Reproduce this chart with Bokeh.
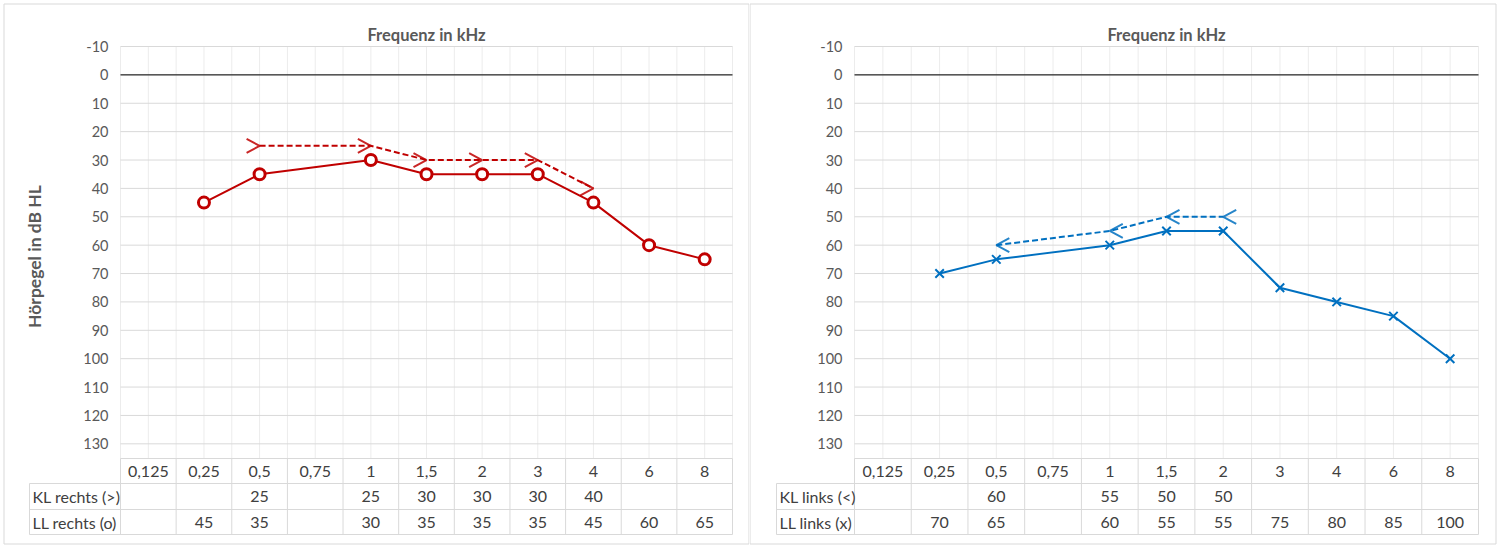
import math
from bokeh.plotting import figure
from bokeh.layouts import row
from bokeh.models import ColumnDataSource, Range1d
from bokeh.core.properties import value
from bokeh.embed import file_html
from bokeh.resources import INLINE

# Frequencies (kHz) as shown in the table header
freqs = ["0,125", "0,25", "0,5", "0,75", "1", "1,5", "2", "3", "4", "6", "8"]
db_ticks = [-10, 0, 10, 20, 30, 40, 50, 60, 70, 80, 90, 100, 110, 120, 130]

# right ear: bone conduction (KL) and air conduction (LL), dB HL
kl_rechts = [None, None, 25, None, 25, 30, 30, 30, 40, None, None]
ll_rechts = [None, 45, 35, None, 30, 35, 35, 35, 45, 60, 65]
# left ear
kl_links = [None, None, 60, None, 55, 50, 50, None, None, None, None]
ll_links = [None, 70, 65, None, 60, 55, 55, 75, 80, 85, 100]

RED = "#c00000"
BLUE = "#0070c0"
GRID_H = "#d9d9d9"
GRID_V = "#ececec"
BORDER = "#d9d9d9"
TICK_COL = "#595959"
CELL_COL = "#404040"
FONT = value("Lato")

W = 749          # width of one panel
H = 547          # figure height
TOP_PX = 46      # window y of -10 dB
DB_PX = 2.838    # pixels per dB
Y_MAX = 135.2    # bottom of plot area in dB


def wy(py):
    return -10 + (py - TOP_PX) / DB_PX


def audiogram(fig_left, plot_left, plot_right, table_left, tick_right, borders,
              kl, ll, kl_name, ll_name, color, direction, ll_marker, ylabel=None):
    cw = (plot_right - plot_left) / len(freqs)

    def wx(px):
        return (px - plot_left) / cw

    p = figure(width=W, height=H, output_backend="svg", toolbar_location=None,
               x_range=Range1d(wx(fig_left), wx(fig_left + W)),
               y_range=Range1d(wy(H), wy(0)),
               x_axis_type=None, y_axis_type=None, min_border=0)
    p.outline_line_color = None
    p.background_fill_color = "white"
    n = len(freqs)

    # panel border
    bx0, bx1 = wx(borders[0]), wx(borders[1])
    by0, by1 = wy(3.5), wy(543.5)
    p.multi_line(xs=[[bx0, bx1, bx1, bx0, bx0]], ys=[[by0, by0, by1, by1, by0]],
                 line_color=BORDER, line_width=1)

    # minor vertical grid (half categories)
    xs = [k * 0.5 for k in range(2 * n + 1)]
    p.segment(x0=xs, y0=[-10] * len(xs), x1=xs, y1=[Y_MAX] * len(xs),
              line_color=GRID_V, line_width=1)
    # horizontal grid
    p.segment(x0=[0] * len(db_ticks), y0=db_ticks, x1=[n] * len(db_ticks), y1=db_ticks,
              line_color=GRID_H, line_width=1)
    p.segment(x0=[0], y0=[0], x1=[n], y1=[0], line_color="black", line_width=1)

    # y tick labels
    p.text(x=[wx(tick_right)] * len(db_ticks), y=db_ticks, text=[str(t) for t in db_ticks],
           text_align="right", text_baseline="middle", text_font=FONT,
           text_font_size="14.5px", text_color=TICK_COL)

    # title
    p.text(x=[n / 2], y=[wy(34)], text=["Frequenz in kHz"], text_align="center",
           text_baseline="middle", text_font=FONT, text_font_size="16.5px",
           text_font_style="bold", text_color=TICK_COL)
    if ylabel:
        p.text(x=[wx(34)], y=[wy(256)], text=[ylabel], angle=math.pi / 2,
               text_align="center", text_baseline="middle", text_font=FONT,
               text_font_size="17.5px", text_font_style="bold", text_color=TICK_COL)

    # data table
    r0, r1, r2, r3 = wy(458), wy(483), wy(509), wy(534)
    tl = wx(table_left)
    p.segment(x0=[0, tl, tl, tl], y0=[r0, r1, r2, r3], x1=[n] * 4, y1=[r0, r1, r2, r3],
              line_color=GRID_H, line_width=1)
    vx = list(range(n + 1))
    p.segment(x0=vx, y0=[r0] * len(vx), x1=vx, y1=[r3] * len(vx),
              line_color=GRID_H, line_width=1)
    p.segment(x0=[tl], y0=[r1], x1=[tl], y1=[r3], line_color=GRID_H, line_width=1)

    centers = [i + 0.5 for i in range(n)]
    p.text(x=centers, y=[(r0 + r1) / 2] * n, text=freqs, text_align="center",
           text_baseline="middle", text_font=FONT, text_font_size="16px",
           text_color=CELL_COL)
    for vals, yy in ((kl, (r1 + r2) / 2), (ll, (r2 + r3) / 2)):
        cx = [c for c, v in zip(centers, vals) if v is not None]
        tx = [str(v) for v in vals if v is not None]
        p.text(x=cx, y=[yy] * len(cx), text=tx, text_align="center",
               text_baseline="middle", text_font=FONT, text_font_size="16px",
               text_color=CELL_COL)
    p.text(x=[wx(table_left + 3)] * 2, y=[(r1 + r2) / 2, (r2 + r3) / 2],
           text=[kl_name, ll_name], text_align="left", text_baseline="middle",
           text_font=FONT, text_font_size="16px", text_color=CELL_COL)

    # bone conduction: dashed line, chevron markers (">" right ear, "<" left ear)
    kx = [c for c, v in zip(centers, kl) if v is not None]
    ky = [v for v in kl if v is not None]
    p.line(kx, ky, line_color=color, line_width=2, line_dash="6 3")
    dx = -direction * 13 / cw
    dy = 7 / DB_PX
    p.multi_line(xs=[[x + dx, x, x + dx] for x in kx],
                 ys=[[y - dy, y, y + dy] for y in ky],
                 line_color=color, line_width=2, line_alpha=0.85)

    # air conduction: solid line with markers
    lls = ColumnDataSource(dict(
        x=[c for c, v in zip(centers, ll) if v is not None],
        y=[v for v in ll if v is not None]))
    p.line("x", "y", source=lls, line_color=color, line_width=2)
    if ll_marker == "circle":
        p.scatter("x", "y", source=lls, marker="circle", size=11, line_width=3,
                  line_color=color, fill_color="white")
    else:
        p.scatter("x", "y", source=lls, marker="x", size=12, line_width=2,
                  line_color=color)
    return p


left = audiogram(0, 120, 732, 29, 108, (3.5, 748.5), kl_rechts, ll_rechts,
                 "KL rechts (>)", "LL rechts (o)", RED, 1, "circle",
                 ylabel="Hörpegel in dB HL")
right = audiogram(W, 854, 1478, 776, 842, (749.5, 1495.5), kl_links, ll_links,
                  "KL links (<)", "LL links (x)", BLUE, -1, "x")

layout = row(left, right)
open("out.html", "w").write(file_html(layout, INLINE))
